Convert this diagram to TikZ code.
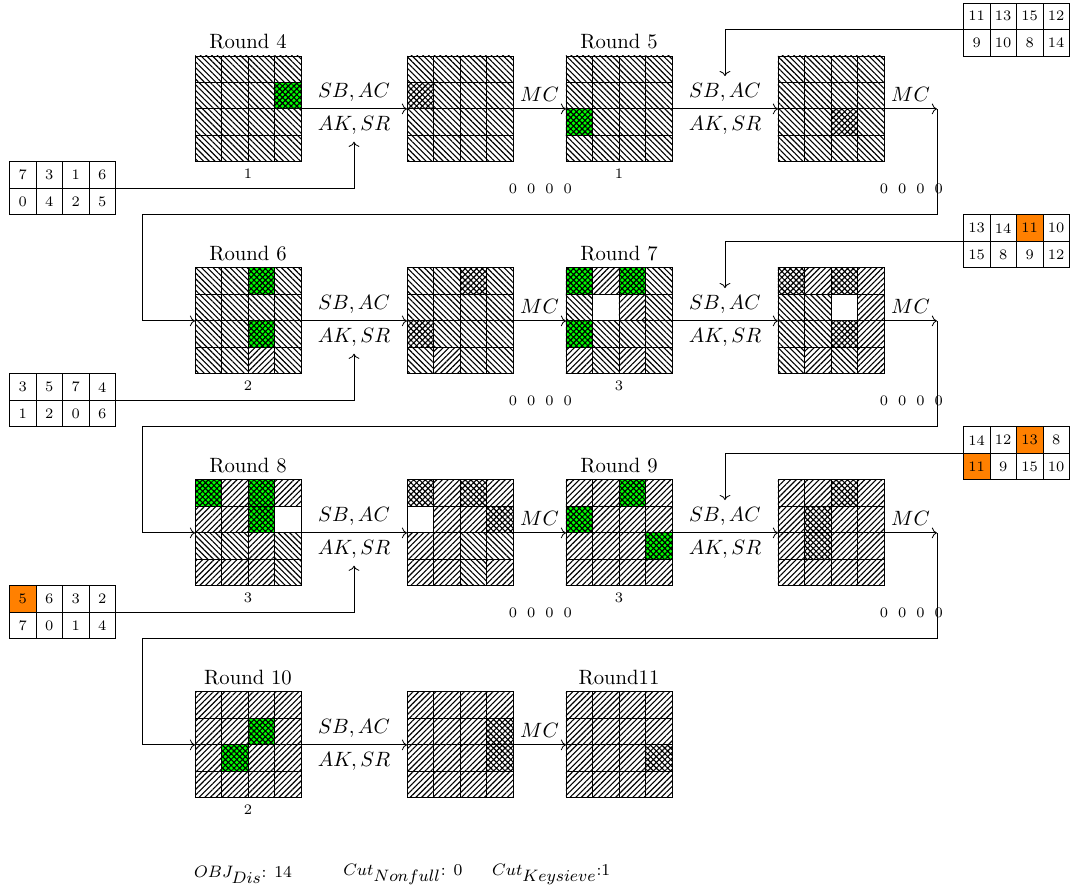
\documentclass[tikz,border=0pt]{standalone}
\usepackage{tikz}
\usetikzlibrary{patterns,patterns.meta,arrows.meta,positioning,calc}

% one 4x4 state, cells row by row
\newcommand{\cellgrid}[2]{%
  \foreach \sty [count=\k from 0] in {#2} {
    \pgfmathtruncatemacro{\ri}{div(\k,4)}
    \pgfmathtruncatemacro{\ci}{mod(\k,4)}
    \draw[\sty] ($(#1.north west)+(\ci,-\ri)$) rectangle ++(1,-1);
  }
}
% key byte table, 2x4, entries value/style
\newcommand{\keytable}[3]{%
  \foreach \v/\s [count=\k from 0] in {#3} {
    \pgfmathtruncatemacro{\ri}{div(\k,4)}
    \pgfmathtruncatemacro{\ci}{mod(\k,4)}
    \node[kcell, \s] (#1-\k) at ($(#2)+(\ci+0.5,-\ri-0.5)$) {\v};
  }
}

\begin{document}
\begin{tikzpicture}[x=0.45cm, y=0.45cm,
  gridbox/.style={minimum size=1.8cm, inner sep=0pt, outer sep=0pt},
  nw/.style={draw, pattern={Lines[angle=-45, distance=1.95pt, line width=0.55pt]}},
  ne/.style={draw, pattern={Lines[angle=45, distance=1.95pt, line width=0.55pt]}},
  xc/.style={draw, pattern={Hatch[angle=45, distance=1.95pt, line width=0.55pt]}},
  gc/.style={draw, preaction={fill=green}, pattern={Hatch[angle=45, distance=1.95pt, line width=0.55pt]}},
  wh/.style={draw},
  kcell/.style={draw, minimum size=0.45cm, inner sep=0pt, font=\scriptsize},
  kw/.style={},
  ko/.style={fill=orange},
  cnt/.style={font=\scriptsize},
  lbl/.style={font=\normalsize},
  obj/.style={font=\footnotesize, anchor=west, inner sep=0pt}
]
  \useasboundingbox (-7.36,2.11) rectangle (33.36,-31.4);

  % states
  \foreach \r in {0,...,3} {
    \node[gridbox] (a\r) at (2,-2-8*\r) {};
    \node[gridbox] (b\r) at (10,-2-8*\r) {};
    \node[gridbox] (c\r) at (16,-2-8*\r) {};
  }
  \foreach \r in {0,1,2} {
    \node[gridbox] (d\r) at (24,-2-8*\r) {};
    \coordinate (t\r) at ($(d\r.east)+(2,0)$);
  }

  \cellgrid{a0}{nw,nw,nw,nw, nw,nw,nw,gc, nw,nw,nw,nw, nw,nw,nw,nw}
  \cellgrid{b0}{nw,nw,nw,nw, xc,nw,nw,nw, nw,nw,nw,nw, nw,nw,nw,nw}
  \cellgrid{c0}{nw,nw,nw,nw, nw,nw,nw,nw, gc,nw,nw,nw, nw,nw,nw,nw}
  \cellgrid{d0}{nw,nw,nw,nw, nw,nw,nw,nw, nw,nw,xc,nw, nw,nw,nw,nw}

  \cellgrid{a1}{nw,nw,gc,nw, nw,nw,nw,nw, nw,nw,gc,nw, nw,nw,ne,nw}
  \cellgrid{b1}{nw,nw,xc,nw, nw,nw,nw,nw, xc,nw,nw,nw, nw,ne,nw,nw}
  \cellgrid{c1}{gc,ne,gc,nw, nw,wh,ne,nw, gc,nw,nw,nw, ne,nw,ne,nw}
  \cellgrid{d1}{xc,ne,xc,ne, nw,nw,wh,ne, nw,nw,xc,ne, nw,ne,nw,ne}

  \cellgrid{a2}{gc,ne,gc,ne, ne,ne,gc,wh, nw,nw,ne,nw, ne,ne,ne,nw}
  \cellgrid{b2}{xc,ne,xc,ne, wh,ne,ne,xc, ne,ne,nw,nw, ne,ne,nw,ne}
  \cellgrid{c2}{ne,ne,gc,ne, gc,ne,ne,ne, ne,ne,ne,gc, ne,ne,ne,ne}
  \cellgrid{d2}{ne,ne,xc,ne, ne,xc,ne,ne, ne,xc,ne,ne, ne,ne,ne,ne}

  \cellgrid{a3}{ne,ne,ne,ne, ne,ne,gc,ne, ne,gc,ne,ne, ne,ne,ne,ne}
  \cellgrid{b3}{ne,ne,ne,ne, ne,ne,ne,xc, ne,ne,ne,xc, ne,ne,ne,ne}
  \cellgrid{c3}{ne,ne,ne,ne, ne,ne,ne,ne, ne,ne,ne,xc, ne,ne,ne,ne}

  % round labels
  \node[lbl, above] (ra0) at (a0.north) {Round 4};
  \node[lbl, above] (rc0) at (c0.north) {Round 5};
  \node[lbl, above] (ra1) at (a1.north) {Round 6};
  \node[lbl, above] (rc1) at (c1.north) {Round 7};
  \node[lbl, above] (ra2) at (a2.north) {Round 8};
  \node[lbl, above] (rc2) at (c2.north) {Round 9};
  \node[lbl, above] (ra3) at (a3.north) {Round 10};
  \node[lbl, above] (rc3) at (c3.north) {Round11};

  % counts
  \node[cnt, below] (na0) at (a0.south) {1};
  \node[cnt, below] (nc0) at (c0.south) {1};
  \node[cnt, below] (na1) at (a1.south) {2};
  \node[cnt, below] (nc1) at (c1.south) {3};
  \node[cnt, below] (na2) at (a2.south) {3};
  \node[cnt, below] (nc2) at (c2.south) {3};
  \node[cnt, below] (na3) at (a3.south) {2};
  \foreach \r in {0,1,2}
    \foreach \k in {0,...,3} {
      \node[cnt] (zb\r-\k) at (12+0.69*\k,-5-8*\r) {0};
      \node[cnt] (zd\r-\k) at (26+0.69*\k,-5-8*\r) {0};
    }

  % round functions
  \foreach \r in {0,...,3} {
    \draw[->] (a\r.east) -- (b\r.west)
      node[midway, above] (sa\r) {$SB,AC$}
      node[midway, below] (ka\r) {$AK,SR$};
    \draw[->] (b\r.east) -- (c\r.west) node[midway, above] (mb\r) {$MC$};
  }
  \foreach \r in {0,1,2} {
    \draw[->] (c\r.east) -- (d\r.west)
      node[midway, above] (sc\r) {$SB,AC$}
      node[midway, below] (kc\r) {$AK,SR$};
    \draw[->] (d\r.east) -- (t\r) node[midway, above] (md\r) {$MC$};
  }
  \draw[->] (t0) -- ++(0,-4) -| ($(a1.west)+(-2,0)$) -- (a1.west);
  \draw[->] (t1) -- ++(0,-4) -| ($(a2.west)+(-2,0)$) -- (a2.west);
  \draw[->] (t2) -- ++(0,-4) -| ($(a3.west)+(-2,0)$) -- (a3.west);

  % subkey tables
  \keytable{lt0}{-7,-4}{7/kw,3/kw,1/kw,6/kw,0/kw,4/kw,2/kw,5/kw}
  \keytable{lt1}{-7,-12}{3/kw,5/kw,7/kw,4/kw,1/kw,2/kw,0/kw,6/kw}
  \keytable{lt2}{-7,-20}{5/ko,6/kw,3/kw,2/kw,7/kw,0/kw,1/kw,4/kw}
  \keytable{rt0}{29,2}{11/kw,13/kw,15/kw,12/kw,9/kw,10/kw,8/kw,14/kw}
  \keytable{rt1}{29,-6}{13/kw,14/kw,11/ko,10/kw,15/kw,8/kw,9/kw,12/kw}
  \keytable{rt2}{29,-14}{14/kw,12/kw,13/ko,8/kw,11/ko,9/kw,15/kw,10/kw}
  \foreach \r in {0,1,2} {
    \draw[->] (lt\r-3.south east) -| (ka\r.south);
    \draw[->] (rt\r-0.south west) -| (sc\r.north);
  }

  % objective
  \node[obj] (objdis) at (-0.05,-30.9) {$OBJ_{\textstyle Dis}$: 14};
  \node[obj] (cutn) at (5.58,-30.9) {$Cut_{\textstyle Nonfull}$: 0};
  \node[obj] (cutk) at (11.2,-30.9) {$Cut_{\textstyle Keysieve}$:1};
\end{tikzpicture}
\end{document}
